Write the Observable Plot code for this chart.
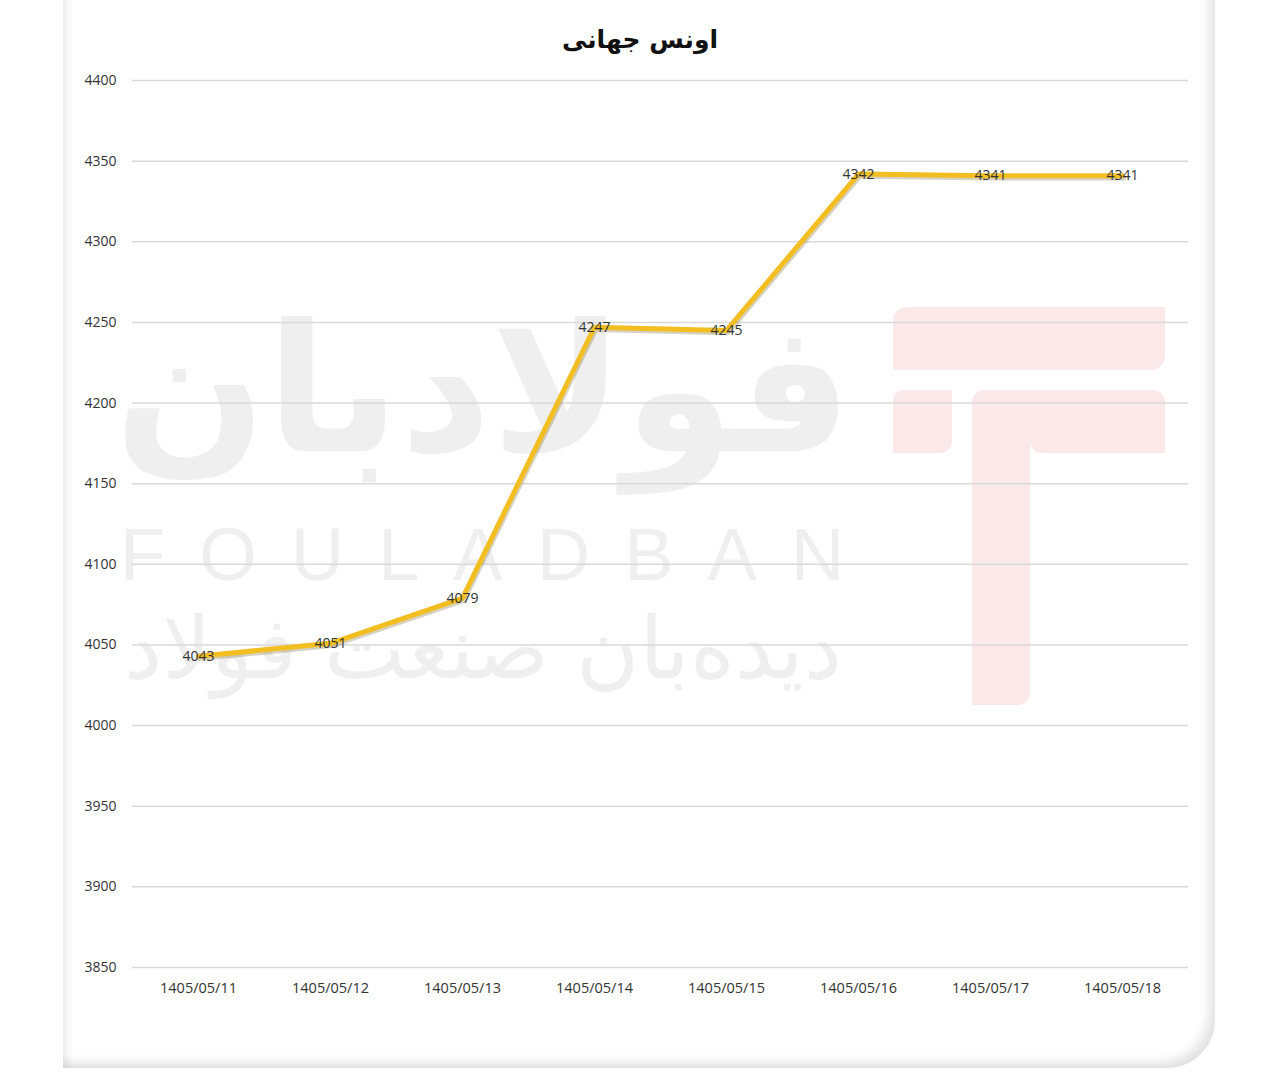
<!DOCTYPE html>
<html>
<head>
<meta charset="utf-8">
<script src="https://cdn.jsdelivr.net/npm/d3@7"></script>
<script src="https://cdn.jsdelivr.net/npm/@observablehq/plot@0.6"></script>
<style>
  html, body { margin: 0; padding: 0; background: #ffffff; }
  #page { position: relative; width: 1280px; height: 1075px; overflow: hidden; background: #fff; }
  #card { position: absolute; left: 63px; top: -40px; width: 1152px; height: 1108px;
          background: #fff; border-radius: 0 0 48px 0;
          box-shadow: inset 7px 0 10px -4px rgba(0,0,0,0.10), inset -9px -9px 12px -4px rgba(0,0,0,0.12); }
  .wm { position: absolute; pointer-events: none; }
  .pink { background: #fbe9ea; }
  .wmtext { color: #efefef; font-family: "DejaVu Sans", sans-serif; white-space: nowrap; }
  #title { position: absolute; left: 0; width: 1280px; top: 25px; text-align: center;
           font-family: "DejaVu Sans", sans-serif; font-weight: bold; font-size: 25px; color: #111; direction: rtl; }
  #chart { position: absolute; left: 0; top: 0; }
</style>
</head>
<body>
<div id="page">
  <div id="card"></div>
  <!-- watermark -->
  <div class="wm pink" style="left:893px; top:307px; width:272px; height:63px; border-radius:14px 0 14px 0;"></div>
  <div class="wm pink" style="left:893px; top:390px; width:59px; height:63px; border-radius:10px 0 12px 0;"></div>
  <div class="wm pink" style="left:972px; top:390px; width:58px; height:315px; border-radius:12px 0 12px 0;"></div>
  <div class="wm pink" style="left:1030px; top:390px; width:135px; height:63px; border-radius:0 12px 0 12px;"></div>
  <div class="wm wmtext" style="left:122px; top:285px; width:730px; text-align:center; font-size:178px; font-weight:bold; line-height:210px; direction:rtl;">فولادبان</div>
  <div class="wm wmtext" style="left:120px; top:515px; width:740px; font-size:74px; letter-spacing:34px; line-height:80px; font-family:'Liberation Sans',sans-serif;">FOULADBAN</div>
  <div class="wm wmtext" style="left:118px; top:588px; width:730px; text-align:center; font-size:86px; line-height:120px; direction:rtl;">دیده‌بان صنعت فولاد</div>
  <div id="title">اونس جهانی</div>
  <div id="chart"></div>
</div>
<script>
const dates = ["1405/05/11","1405/05/12","1405/05/13","1405/05/14","1405/05/15","1405/05/16","1405/05/17","1405/05/18"];
const values = [4043, 4051, 4079, 4247, 4245, 4342, 4341, 4341];
const yTicks = [3850, 3900, 3950, 4000, 4050, 4100, 4150, 4200, 4250, 4300, 4350, 4400];

const data = dates.map((d, i) => ({date: d, value: values[i]}));

const chart = Plot.plot({
  width: 1280,
  height: 1010,
  marginTop: 80,
  marginBottom: 43,
  marginLeft: 132,
  marginRight: 92,
  style: {background: "transparent", fontFamily: "'Open Sans', 'Liberation Sans', sans-serif", fontSize: "14px", color: "#333"},
  x: {type: "point", domain: dates, padding: 0.5, label: null},
  y: {domain: [3850, 4400], ticks: yTicks, label: null},
  marks: [
    Plot.gridY(yTicks, {stroke: "#d9d9d9", strokeOpacity: 1, strokeWidth: 1.5}),
    Plot.axisY(yTicks, {tickSize: 0, tickPadding: 16, fill: "#333", fontSize: 14, tickFormat: "d", label: null}),
    Plot.axisX({tickSize: 0, tickPadding: 15, fill: "#333", fontSize: 14.5, label: null}),
    Plot.line(data, {x: "date", y: "value", stroke: "#8a7a4a", strokeOpacity: 0.35, strokeWidth: 5.5, dy: 2, dx: 1}),
    Plot.line(data, {x: "date", y: "value", stroke: "#F2BE22", strokeWidth: 5}),
    Plot.text(data, {x: "date", y: "value", text: d => String(d.value), fill: "#333", fontSize: 14, stroke: "none"})
  ]
});
document.getElementById("chart").appendChild(chart);
</script>
</body>
</html>
